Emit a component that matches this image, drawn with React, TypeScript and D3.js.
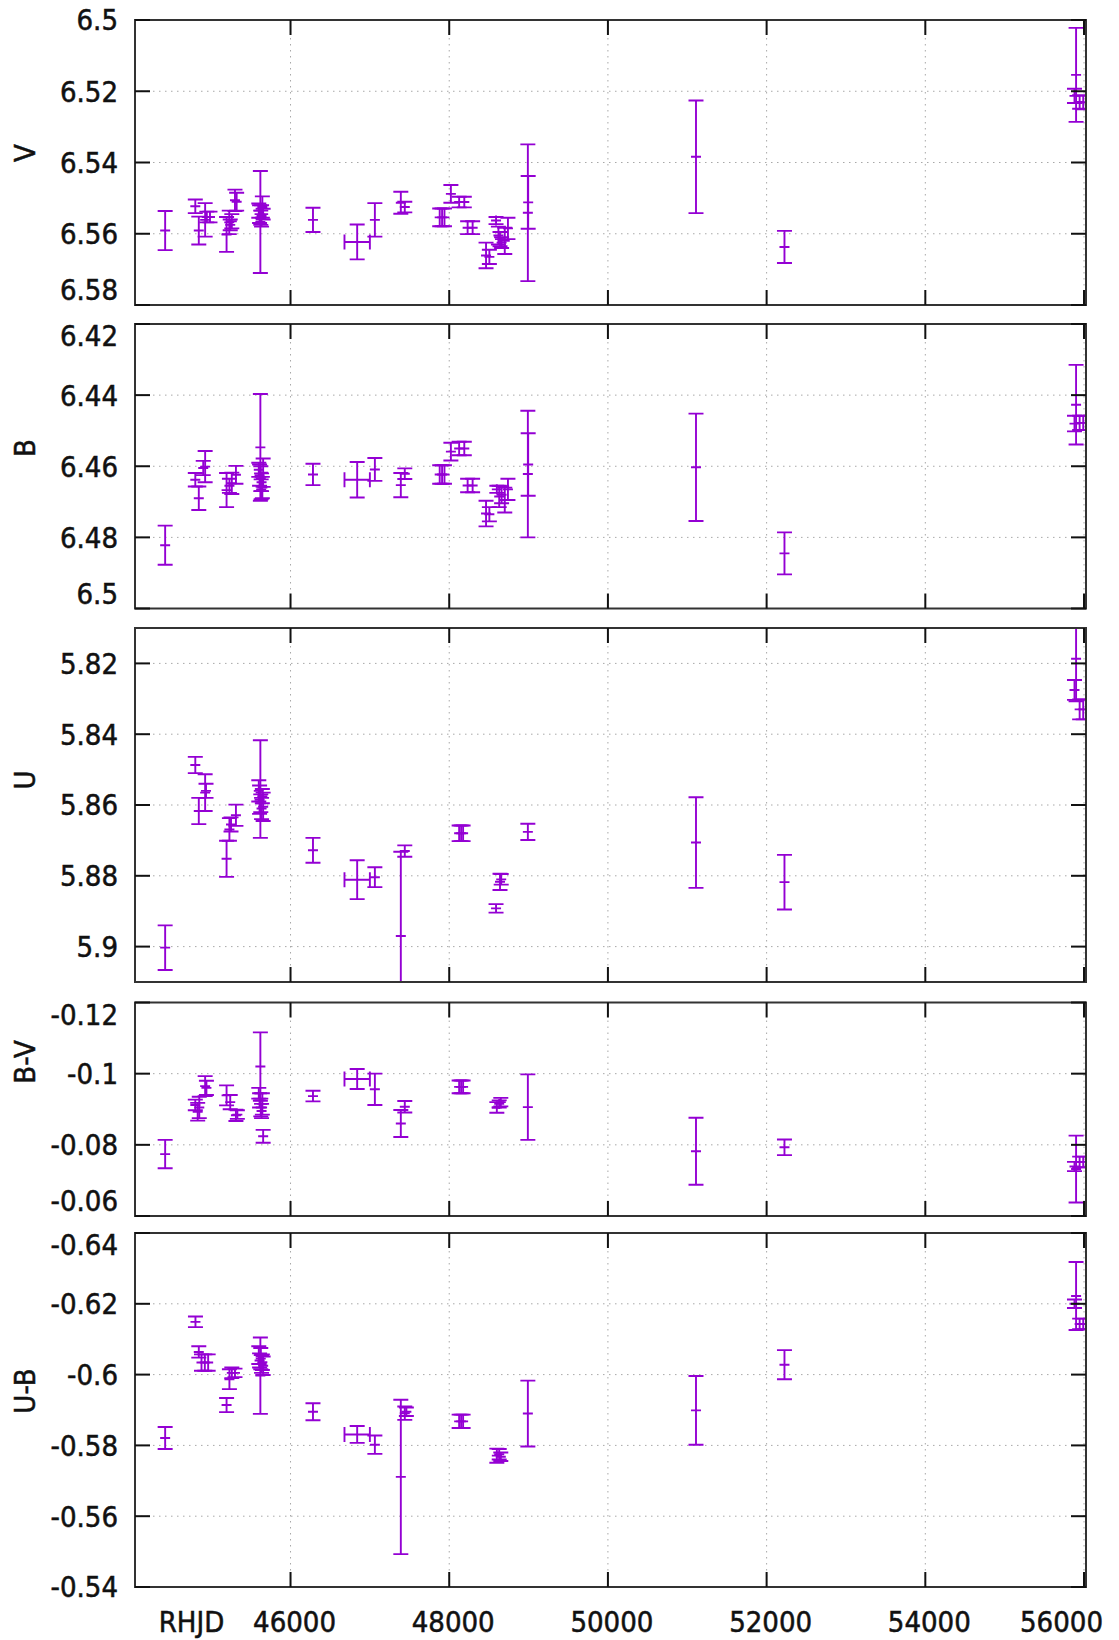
import React from 'react';
import * as d3 from 'd3';

// [RHJD, magnitude, y error, optional x error]
type Pt = [number, number, number, number?];

const vData: Pt[] = [
  [44420, 6.5591, 0.0055], [44800, 6.5523, 0.0019], [44844, 6.5591, 0.0039], [44924, 6.5561, 0.0047],
  [44945, 6.5553, 0.0015], [44985, 6.5553, 0.0015], [45194, 6.5602, 0.0049], [45228, 6.5568, 0.0033],
  [45240, 6.5575, 0.0015], [45260, 6.5565, 0.002], [45300, 6.5506, 0.003], [45321, 6.551, 0.0025],
  [45600, 6.5535, 0.002], [45610, 6.5545, 0.0025], [45620, 6.5567, 0.0143], [45625, 6.5555, 0.002],
  [45635, 6.555, 0.003], [45645, 6.5525, 0.003], [45655, 6.5545, 0.0015], [46283, 6.5561, 0.0034],
  [46840, 6.5623, 0.0049, 160], [47063, 6.5561, 0.0047], [47390, 6.5513, 0.0031], [47440, 6.5525, 0.0015],
  [47880, 6.5554, 0.0025], [47910, 6.5554, 0.0025], [47940, 6.5554, 0.0025], [48021, 6.5488, 0.0025],
  [48125, 6.5511, 0.0015], [48190, 6.5511, 0.0015], [48232, 6.5583, 0.0018], [48295, 6.5583, 0.0018],
  [48464, 6.5661, 0.0036], [48506, 6.5665, 0.002], [48590, 6.5563, 0.001], [48620, 6.5605, 0.0025],
  [48640, 6.5615, 0.002], [48660, 6.5625, 0.0015], [48700, 6.562, 0.0037], [48740, 6.5585, 0.003],
  [48991, 6.5541, 0.0192], [48995, 6.5512, 0.0074], [51110, 6.5384, 0.0158], [52225, 6.5637, 0.0045],
  [55880, 6.5213, 0.002], [55900, 6.5154, 0.0132], [55945, 6.523, 0.0019], [55990, 6.5232, 0.0019],
];

const bData: Pt[] = [
  [44420, 6.4822, 0.0055], [44800, 6.4638, 0.0019], [44844, 6.469, 0.0033], [44900, 6.4605, 0.002],
  [44924, 6.4601, 0.0044], [45194, 6.4667, 0.0048], [45230, 6.4655, 0.002], [45260, 6.4648, 0.003],
  [45312, 6.4624, 0.0025], [45600, 6.461, 0.002], [45610, 6.4625, 0.003], [45620, 6.4547, 0.015],
  [45625, 6.4635, 0.0035], [45630, 6.4665, 0.0028], [45635, 6.4645, 0.0025], [45645, 6.466, 0.003],
  [45655, 6.4618, 0.004], [46283, 6.4623, 0.003], [46840, 6.4638, 0.005, 160], [47063, 6.4609, 0.0032],
  [47390, 6.4653, 0.0034], [47440, 6.4621, 0.0015], [47880, 6.4623, 0.0026], [47910, 6.4623, 0.0026],
  [47940, 6.4623, 0.0026], [48021, 6.4559, 0.0025], [48125, 6.455, 0.0019], [48190, 6.455, 0.0019],
  [48232, 6.4654, 0.0019], [48295, 6.4654, 0.0019], [48464, 6.4733, 0.0036], [48506, 6.4735, 0.002],
  [48600, 6.4665, 0.001], [48630, 6.4685, 0.003], [48660, 6.468, 0.0024], [48700, 6.4695, 0.0035],
  [48740, 6.4665, 0.003], [48991, 6.4622, 0.0178], [48995, 6.4595, 0.0088], [51110, 6.4603, 0.0151],
  [52225, 6.4845, 0.0059], [55880, 6.448, 0.0022], [55900, 6.4427, 0.0112], [55945, 6.4478, 0.002],
  [55990, 6.4478, 0.002],
];

const uData: Pt[] = [
  [44420, 5.9003, 0.0063], [44800, 5.8487, 0.0023], [44844, 5.8617, 0.0037], [44924, 5.8565, 0.0052],
  [44935, 5.856, 0.002], [45194, 5.8752, 0.0051], [45230, 5.8669, 0.0032], [45250, 5.8655, 0.002],
  [45312, 5.8629, 0.003], [45600, 5.856, 0.003], [45610, 5.8585, 0.004], [45620, 5.8555, 0.0138],
  [45625, 5.8595, 0.0025], [45635, 5.861, 0.003], [45645, 5.8575, 0.002], [45655, 5.8605, 0.004],
  [46283, 5.8728, 0.0035], [46840, 5.8811, 0.0055, 160], [47063, 5.8804, 0.0028], [47390, 5.897, 0.0238],
  [47440, 5.873, 0.0016], [48125, 5.868, 0.0022], [48150, 5.868, 0.0022], [48175, 5.868, 0.0022],
  [48590, 5.8892, 0.0012], [48640, 5.8817, 0.0023], [48655, 5.881, 0.0015], [48991, 5.8676, 0.0023],
  [51110, 5.8706, 0.0128], [52225, 5.8818, 0.0077], [55880, 5.8275, 0.0028], [55900, 5.8187, 0.012],
  [55945, 5.833, 0.0028], [55990, 5.833, 0.0028],
];

const bvData: Pt[] = [
  [44420, -0.0774, 0.004], [44800, -0.0912, 0.0015], [44830, -0.0893, 0.0025], [44850, -0.0905, 0.003],
  [44924, -0.0965, 0.0028], [44940, -0.096, 0.002], [45194, -0.0939, 0.0028], [45240, -0.092, 0.002],
  [45312, -0.0883, 0.0016], [45330, -0.0885, 0.0012], [45600, -0.0945, 0.0015], [45610, -0.0925, 0.002],
  [45620, -0.102, 0.0096], [45625, -0.0905, 0.0025], [45635, -0.0895, 0.002], [45645, -0.0915, 0.003],
  [45655, -0.0824, 0.0018], [46283, -0.0937, 0.0015], [46840, -0.0985, 0.0028, 160], [47063, -0.0956, 0.0044],
  [47390, -0.086, 0.0038], [47440, -0.0907, 0.0016], [48125, -0.0963, 0.0018], [48150, -0.0963, 0.0018],
  [48175, -0.0963, 0.0018], [48600, -0.0905, 0.0015], [48630, -0.0915, 0.001], [48650, -0.092, 0.0012],
  [48991, -0.0906, 0.0092], [51110, -0.0782, 0.0094], [52225, -0.0793, 0.0022], [55880, -0.0739, 0.0013],
  [55900, -0.0732, 0.0094], [55945, -0.0752, 0.0015], [55990, -0.0752, 0.0015],
];

const ubData: Pt[] = [
  [44420, -0.5821, 0.0031], [44802, -0.6149, 0.0015], [44844, -0.6064, 0.0016], [44878, -0.6034, 0.0023],
  [44920, -0.6034, 0.0023], [44962, -0.6034, 0.0023], [45194, -0.5914, 0.002], [45230, -0.5987, 0.0028],
  [45260, -0.6005, 0.0015], [45300, -0.6005, 0.0012], [45600, -0.6055, 0.0025], [45610, -0.604, 0.002],
  [45620, -0.5997, 0.0108], [45625, -0.6045, 0.003], [45635, -0.603, 0.0025], [45645, -0.6035, 0.0022],
  [45655, -0.6025, 0.0026], [46283, -0.5895, 0.0024], [46840, -0.5831, 0.0024, 160], [47063, -0.5802, 0.0026],
  [47390, -0.5711, 0.0218], [47440, -0.5891, 0.0019], [47460, -0.5895, 0.0012], [48125, -0.5868, 0.0019],
  [48150, -0.5868, 0.0019], [48175, -0.5868, 0.0019], [48600, -0.5771, 0.002], [48630, -0.5775, 0.0015],
  [48650, -0.5768, 0.0012], [48991, -0.589, 0.0093], [51110, -0.5899, 0.0097], [52225, -0.6028, 0.0041],
  [55880, -0.62, 0.0012], [55900, -0.6222, 0.0096], [55945, -0.6143, 0.0015], [55990, -0.6143, 0.0015],
];

const panelLabels = ['V', 'B', 'U', 'B-V', 'U-B'];
const panelData = [vData, bData, uData, bvData, ubData];
const yDomains = [[6.5, 6.58], [6.42, 6.5], [5.81, 5.91], [-0.12, -0.06], [-0.64, -0.54]];
const yTickValues = [
  [6.5, 6.52, 6.54, 6.56, 6.58],
  [6.42, 6.44, 6.46, 6.48, 6.5],
  [5.82, 5.84, 5.86, 5.88, 5.9],
  [-0.12, -0.1, -0.08, -0.06],
  [-0.64, -0.62, -0.6, -0.58, -0.56, -0.54],
];
const xDomain = [44040, 56025];
const xTickValues = [46000, 48000, 50000, 52000, 54000, 56000];
const xLabel = 'RHJD';

// layout
const W = 1119;
const H = 1640;
const plotLeft = 135;
const plotRight = 1086;
const frames = [[20, 305], [324, 608.5], [628, 982], [1002.5, 1216], [1233, 1587]];
const ylabelY = [153, 448, 780, 1062, 1391];
const purple = '#9400d3';
const font = "'DejaVu Sans Condensed', 'DejaVu Sans', sans-serif";
const fs = 29;
const tickLen = 15;
const cap = 7.5;
const mark = 5;

const fmt = (v: number) => String(+v.toFixed(3));

const textStyle = { fontStretch: 'condensed' } as React.CSSProperties;

function Panel({ i, x }: { i: number; x: d3.ScaleLinear<number, number> }) {
  const [top, bottom] = frames[i];
  const y = d3.scaleLinear().domain(yDomains[i]).range([top, bottom]);
  const last = i === frames.length - 1;
  const ticks = yTickValues[i];
  const dom = yDomains[i];

  const bars = panelData[i].map(([t, v, e, dx], k) => {
    const cx = x(t);
    const cy = y(v);
    const y0 = y(v - e);
    const y1 = y(v + e);
    let d = `M${cx},${y0}V${y1}M${cx - cap},${y0}H${cx + cap}M${cx - cap},${y1}H${cx + cap}`;
    d += `M${cx - mark},${cy}H${cx + mark}M${cx},${cy - mark}V${cy + mark}`;
    if (dx) {
      const x0 = x(t - dx);
      const x1 = x(t + dx);
      d += `M${x0},${cy}H${x1}M${x0},${cy - cap}V${cy + cap}M${x1},${cy - cap}V${cy + cap}`;
    }
    return <path key={k} d={d} fill="none" stroke={purple} strokeWidth={1.9} />;
  });

  return (
    <g>
      <clipPath id={`clip${i}`}>
        <rect x={plotLeft} y={top} width={plotRight - plotLeft} height={bottom - top} />
      </clipPath>
      {/* grid */}
      <g stroke="#a8a8a8" strokeWidth={1} strokeDasharray="1.5 4.5">
        {xTickValues.map(t => (
          <line key={t} x1={x(t)} x2={x(t)} y1={top} y2={bottom} />
        ))}
        {ticks.filter(t => t !== dom[0] && t !== dom[1]).map(t => (
          <line key={t} x1={plotLeft} x2={plotRight} y1={y(t)} y2={y(t)} />
        ))}
      </g>
      <g clipPath={`url(#clip${i})`}>{bars}</g>
      <rect x={plotLeft} y={top} width={plotRight - plotLeft} height={bottom - top}
        fill="none" stroke="#333" strokeWidth={2} />
      {/* ticks */}
      <g stroke="#111" strokeWidth={2}>
        {xTickValues.map(t => (
          <g key={t}>
            <line x1={x(t)} x2={x(t)} y1={bottom} y2={bottom - tickLen} />
            <line x1={x(t)} x2={x(t)} y1={top} y2={top + tickLen} />
          </g>
        ))}
        {ticks.map(t => (
          <g key={t}>
            <line x1={plotLeft} x2={plotLeft + tickLen} y1={y(t)} y2={y(t)} />
            <line x1={plotRight} x2={plotRight - tickLen} y1={y(t)} y2={y(t)} />
          </g>
        ))}
      </g>
      {/* y tick labels */}
      <g fontFamily={font} fontSize={fs} fill="#111" stroke="#111" strokeWidth={0.5}
        textAnchor="end" style={textStyle}>
        {ticks.map(t => {
          let ty = y(t);
          if (t === dom[0] && i > 0) ty += 12;
          if (t === dom[1] && !last) ty -= 15;
          return (
            <text key={t} x={118} y={ty} dy="0.36em">{fmt(t)}</text>
          );
        })}
      </g>
      <text transform={`translate(25,${ylabelY[i]}) rotate(-90)`} textAnchor="middle" dy="0.36em"
        fontFamily={font} fontSize={fs} fill="#111" stroke="#111" strokeWidth={0.5} style={textStyle}>
        {panelLabels[i]}
      </text>
      {last && (
        <g fontFamily={font} fontSize={fs} fill="#111" stroke="#111" strokeWidth={0.5} style={textStyle}>
          <text x={191.5} y={1631.5} textAnchor="middle">{xLabel}</text>
          {xTickValues.map((t, k) => k === xTickValues.length - 1
            ? <text key={t} x={1103} y={1631.5} textAnchor="end">{t}</text>
            : <text key={t} x={x(t) + 4} y={1631.5} textAnchor="middle">{t}</text>)}
        </g>
      )}
    </g>
  );
}

export default function App() {
  const x = d3.scaleLinear().domain(xDomain).range([plotLeft, plotRight]);
  return (
    <svg width={W} height={H} viewBox={`0 0 ${W} ${H}`}
      style={{ position: 'absolute', left: 0, top: 0, background: '#fff', display: 'block' }}>
      <rect width={W} height={H} fill="#fff" />
      {frames.map((_, i) => <Panel key={i} i={i} x={x} />)}
    </svg>
  );
}
